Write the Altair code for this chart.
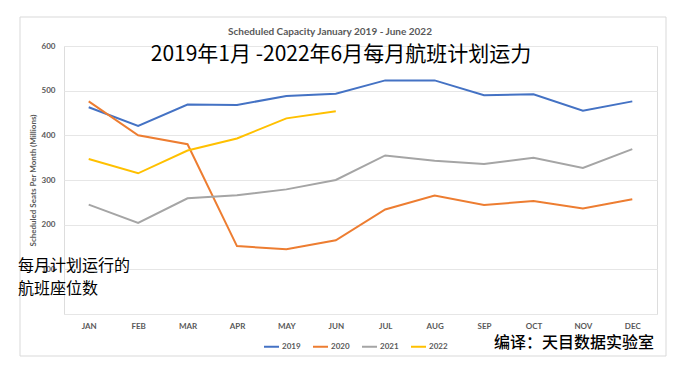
import altair as alt
import pandas as pd

months = ["JAN", "FEB", "MAR", "APR", "MAY", "JUN", "JUL", "AUG", "SEP", "OCT", "NOV", "DEC"]
years = ["2019", "2020", "2021", "2022"]
colors = ["#4472C4", "#ED7D31", "#A5A5A5", "#FFC000"]
y2019 = [463, 421, 469, 468, 488, 493, 523, 523, 490, 492, 455, 476]
y2020 = [476, 400, 380, 152, 145, 165, 234, 265, 244, 253, 236, 257]
y2021 = [245, 204, 259, 266, 279, 300, 355, 343, 336, 350, 327, 369]
y2022 = [347, 315, 366, 393, 438, 454]
y_ticks = [0, 100, 200, 300, 400, 500, 600]

title_en = "Scheduled Capacity January 2019   - June 2022"
title_cn = "2019年1月 -2022年6月每月航班计划运力"
y_title = "Scheduled Seats Per Month (Millions)"
note_lines = ["每月计划运行的", "航班座位数"]
credit = "编译：天目数据实验室"

rows = []
for yr, vals in zip(years, [y2019, y2020, y2021, y2022]):
    for m, v in zip(months, vals):
        rows.append({"month": m, "year": yr, "value": v})
df = pd.DataFrame(rows)

W, H = 593, 268
gray = "#595959"
lat = "Lato"
cjk = "Noto Sans CJK SC"

one = alt.Data(values=[{"a": 1}])

frame = alt.Chart(one).mark_rect(filled=False, stroke="#D9D9D9", strokeWidth=1).encode(
    x=alt.value(-44), x2=alt.value(602), y=alt.value(-29), y2=alt.value(310)
)

lines = alt.Chart(df).mark_line(strokeWidth=2).encode(
    x=alt.X("month:N", sort=months, title=None,
            axis=alt.Axis(domain=False, ticks=False, labelAngle=0, labelFont=lat,
                          labelFontWeight="bold", labelFontSize=8, labelColor=gray,
                          labelPadding=8, grid=False)),
    y=alt.Y("value:Q", scale=alt.Scale(domain=[0, 600], nice=False),
            axis=alt.Axis(values=y_ticks, title=y_title, domain=False, ticks=False,
                          labelExpr="datum.value == 0 ? '' : datum.label",
                          labelFont=lat, labelFontWeight="bold", labelFontSize=8,
                          labelColor=gray, labelPadding=9, gridColor="#E6E6E6",
                          titleFont=lat, titleFontWeight="bold", titleFontSize=8,
                          titleColor=gray, titlePadding=4)),
    color=alt.Color("year:N", scale=alt.Scale(domain=years, range=colors),
                    legend=alt.Legend(orient="none", legendX=199, legendY=292,
                                      direction="horizontal", title=None,
                                      symbolType="stroke", symbolSize=225,
                                      symbolStrokeWidth=2, labelFont=lat,
                                      labelFontWeight="bold", labelFontSize=8,
                                      labelColor=gray, labelOffset=2,
                                      columnPadding=8)),
)

t_en = alt.Chart(one).mark_text(font=lat, fontSize=10, fontWeight="bold", color=gray,
                                align="center", baseline="middle").encode(
    x=alt.value(266), y=alt.value(-14), text=alt.value(title_en))
t_cn = alt.Chart(one).mark_text(font=cjk, fontSize=21, color="#000000",
                                align="center", baseline="middle").encode(
    x=alt.value(277), y=alt.value(9), text=alt.value(title_cn))
n1 = alt.Chart(one).mark_text(font=cjk, fontSize=16, color="#000000",
                              align="left", baseline="middle").encode(
    x=alt.value(-46), y=alt.value(220), text=alt.value(note_lines[0]))
n2 = alt.Chart(one).mark_text(font=cjk, fontSize=16, color="#000000",
                              align="left", baseline="middle").encode(
    x=alt.value(-46), y=alt.value(243), text=alt.value(note_lines[1]))
cr = alt.Chart(one).mark_text(font=cjk, fontSize=16, color="#000000", fontWeight=500,
                              align="right", baseline="middle").encode(
    x=alt.value(590), y=alt.value(297), text=alt.value(credit))

chart = alt.layer(frame, lines, t_en, t_cn, n1, n2, cr).properties(
    width=W, height=H,
    autosize=alt.AutoSizeParams(type="none"),
    padding={"left": 56, "top": 38, "right": 10, "bottom": 43},
).configure_view(stroke=None).configure(background="white")

chart.save("out.html", embed_options={"renderer": "svg", "actions": False})
